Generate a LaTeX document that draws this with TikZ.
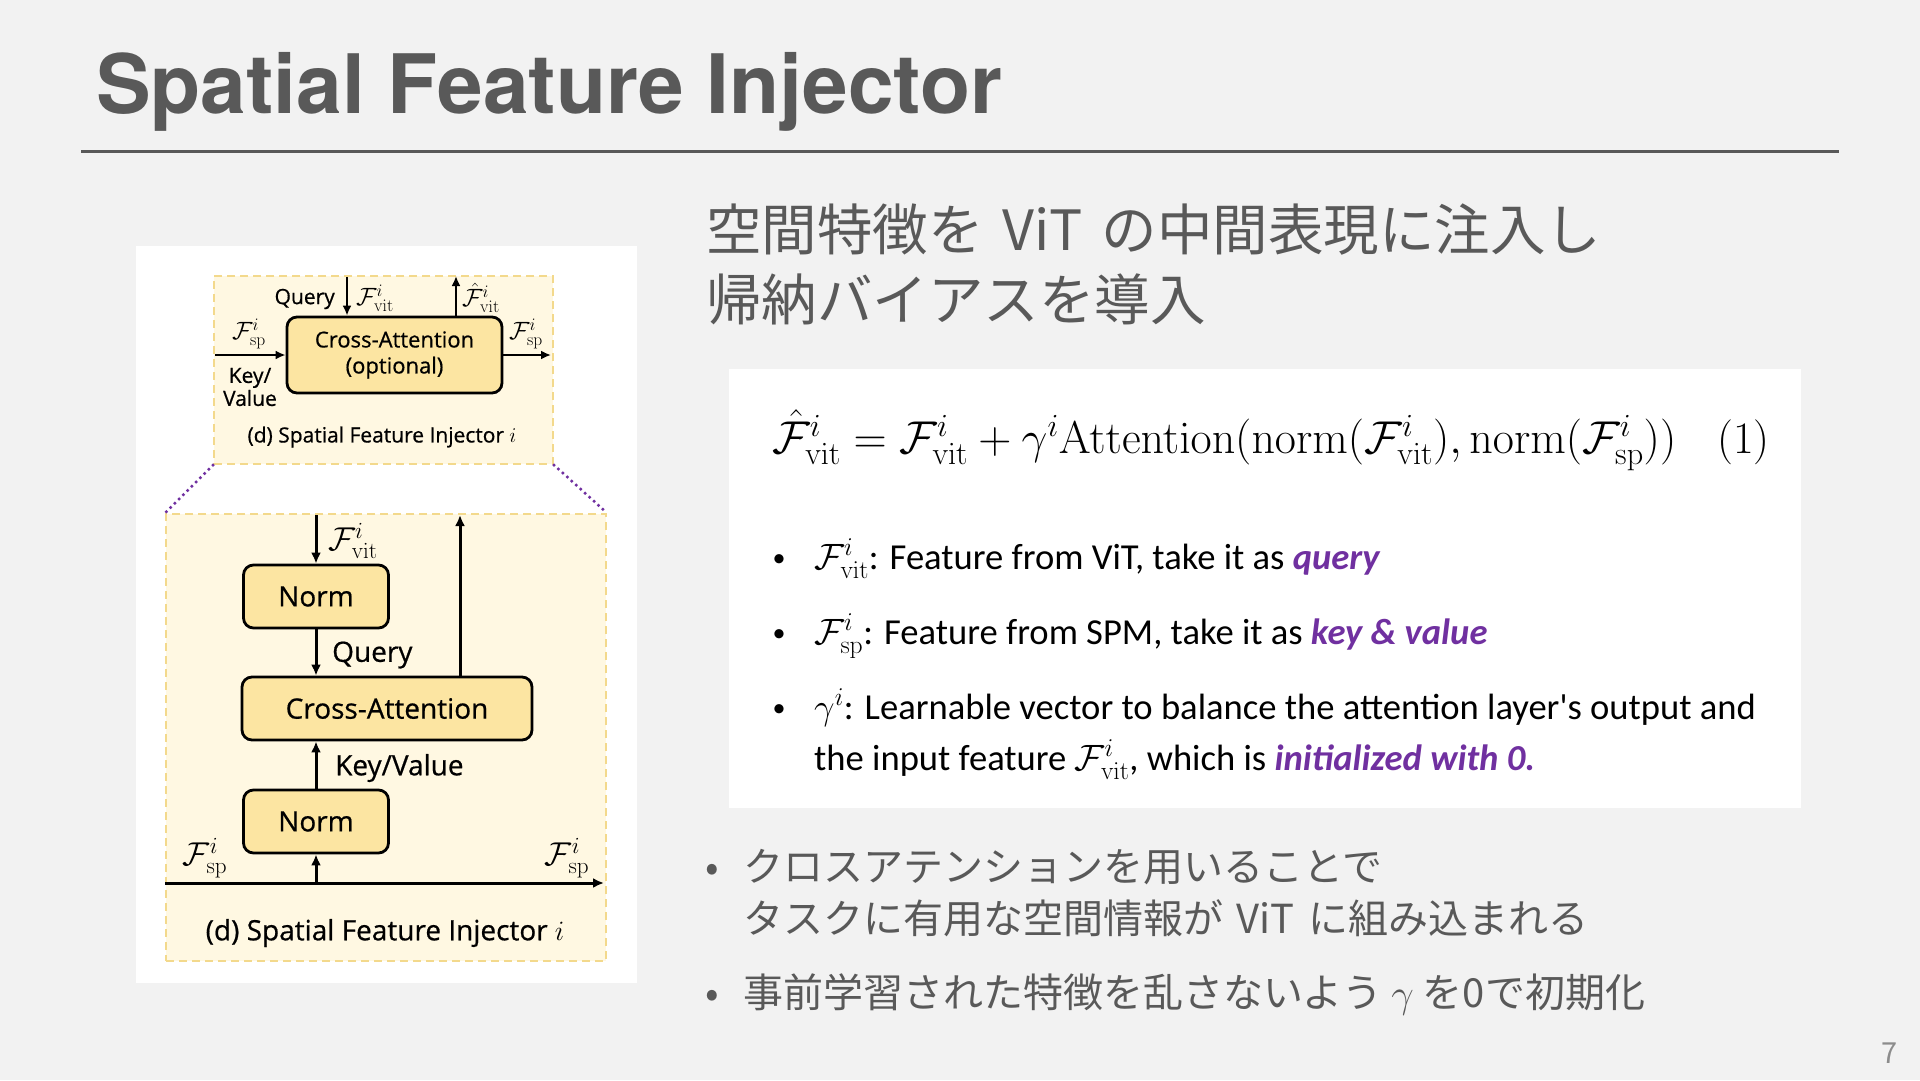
\RequirePackage{fix-cm}
\documentclass[tikz,border=0pt]{standalone}
\usepackage[no-math]{fontspec}
\newfontfamily\jpfont{Noto Sans CJK JP}
\newfontfamily\titlefont{TeX Gyre Heros}
\newfontfamily\figfont[FakeBold=0.6]{Open Sans}
\newfontfamily\calfont{Carlito}
\usetikzlibrary{arrows.meta}
\definecolor{bg}{HTML}{F2F2F2}
\definecolor{txtgray}{HTML}{595959}
\definecolor{numgray}{HTML}{8C8C8C}
\definecolor{cream}{HTML}{FFF8E2}
\definecolor{dashc}{HTML}{F3D98C}
\definecolor{boxfill}{HTML}{FCE5A2}
\definecolor{purp}{HTML}{7030A0}
\newcommand{\tmath}[1]{{\fontsize{25}{27}\selectfont$#1$}}
\newcommand{\bmath}[1]{{\fontsize{33}{35}\selectfont$#1$}}
\newcommand{\jsp}{\hspace{0.34em}}
\tikzset{
  arr/.style={line width=2.6, -{Latex[length=10,width=9]}},
  arrb/.style={line width=3, -{Latex[length=11,width=10]}},
  cabox/.style={draw, line width=2.8, rounded corners=10, fill=boxfill, align=center, inner sep=0},
  dbox/.style={draw=dashc, line width=2, dash pattern=on 8pt off 5pt, fill=cream, inner sep=0},
  zoomline/.style={purp, line width=3.5, dash pattern=on 0pt off 6pt, line cap=round},
  lbl/.style={inner sep=0},
  toplbl/.style={lbl, font=\figfont\fontsize{21}{23}\selectfont},
  botlbl/.style={lbl, font=\figfont\fontsize{28}{30}\selectfont},
  jp/.style={inner sep=0, text=txtgray},
  pbul/.style={inner sep=0, font=\calfont\fontsize{36.6}{40}\selectfont},
  pdot/.style={inner sep=0, font=\calfont\fontsize{26}{30}\selectfont},
}
\begin{document}
\begin{tikzpicture}[x=1pt,y=-1pt]
\useasboundingbox (0,0) rectangle (1920,1080);
\fill[bg] (0,0) rectangle (1920,1080);

% title
\node[anchor=base west, inner sep=0, text=txtgray, font=\titlefont\bfseries\fontsize{82}{98}\selectfont] (title) at (96,113) {Spatial Feature Injector};
\draw[line width=3, txtgray] (81,151) -- (1839,151);

% figure panel
\fill[white] (136,246) rectangle (637,983);

% top injector
\node[dbox, minimum width=339, minimum height=188, anchor=north west] (topbox) at (213,275) {};
\node[cabox, minimum width=215, minimum height=76, font=\figfont\fontsize{22}{26}\selectfont] (ca1) at (394.5,355) {Cross-Attention\\(optional)};
\coordinate (q1) at (347,277);
\coordinate (o1) at (456,276);
\coordinate (l1) at (215,355);
\coordinate (r1) at (551,355);
\draw[arr] (q1) -- (q1 |- ca1.north);
\draw[arr] (o1 |- ca1.north) -- (o1);
\draw[arr] (l1) -- (ca1.west);
\draw[arr] (ca1.east) -- (r1);
\node[toplbl, anchor=east] (tq) at (335,299) {Query};
\node[toplbl, anchor=west] (tfv) at (356,298) {\tmath{\mathcal{F}^i_{\mathrm{vit}}}};
\node[toplbl, anchor=west] (tfh) at (462,298) {\tmath{\hat{\mathcal{F}}^i_{\mathrm{vit}}}};
\node[toplbl] (tfsl) at (249,334) {\tmath{\mathcal{F}^i_{\mathrm{sp}}}};
\node[toplbl] (tfsr) at (526,334) {\tmath{\mathcal{F}^i_{\mathrm{sp}}}};
\node[toplbl, align=center] (tkv) at (250,387) {Key/\\Value};
\node[toplbl] (tcap) at (382,437) {(d) Spatial Feature Injector $i$};

% bottom injector
\node[dbox, minimum width=440, minimum height=447, anchor=north west] (botbox) at (165,513) {};
\draw[zoomline] (topbox.south west) -- (botbox.north west);
\draw[zoomline] (topbox.south east) -- (botbox.north east);

\node[cabox, minimum width=145, minimum height=63, font=\figfont\fontsize{28}{30}\selectfont] (n1) at (316,596.5) {Norm};
\node[cabox, minimum width=290, minimum height=63, font=\figfont\fontsize{28}{30}\selectfont] (ca2) at (387,708.5) {Cross-Attention};
\node[cabox, minimum width=145, minimum height=63, font=\figfont\fontsize{28}{30}\selectfont] (n2) at (316,821.5) {Norm};
\coordinate (in2) at (316,515);
\coordinate (up2) at (460,515);
\coordinate (hl) at (165,883);
\coordinate (hr) at (604,883);
\draw[arrb] (in2) -- (n1.north);
\draw[arrb] (n1.south) -- (n1.south |- ca2.north);
\draw[arrb] (n2.north) -- (n2.north |- ca2.south);
\draw[arrb] (hl) -- (hr);
\draw[arrb] (n2.south |- hl) -- (n2.south);
\draw[arrb] (up2 |- ca2.north) -- (up2);
\node[botlbl, anchor=west] (bfv) at (328,541) {\bmath{\mathcal{F}^i_{\mathrm{vit}}}};
\node[botlbl, anchor=west] (bq) at (332,655) {Query};
\node[botlbl, anchor=west] (bkv) at (335,768) {Key/Value};
\node[botlbl] (bfsl) at (205,858) {\bmath{\mathcal{F}^i_{\mathrm{sp}}}};
\node[botlbl] (bfsr) at (567,858) {\bmath{\mathcal{F}^i_{\mathrm{sp}}}};
\node[botlbl] (bcap) at (385,933) {(d) Spatial Feature Injector $i$};

% heading
\node[jp, anchor=base west, font=\jpfont\fontsize{55.5}{66}\selectfont] (h1) at (706,250) {空間特徴を\jsp ViT\jsp の中間表現に注入し};
\node[jp, anchor=base west, font=\jpfont\fontsize{55.5}{66}\selectfont] (h2) at (706,320) {帰納バイアスを導入};

% equation panel
\fill[white] (729,369) rectangle (1801,808);
\node[inner sep=0, anchor=base west, font=\fontsize{46}{54}\selectfont] (eq) at (772,453) {$\hat{\mathcal{F}}^i_{\mathrm{vit}} = \mathcal{F}^i_{\mathrm{vit}} + \gamma^i \mathrm{Attention}(\mathrm{norm}(\mathcal{F}^i_{\mathrm{vit}}), \mathrm{norm}(\mathcal{F}^i_{\mathrm{sp}}))$};
\node[inner sep=0, anchor=base east, font=\fontsize{45}{54}\selectfont] (eqn) at (1770,453) {(1)};

\node[pdot, anchor=base] (b1d) at (779,566) {•};
\node[pbul, anchor=base west] (b1) at (814,569) {$\mathcal{F}^i_{\mathrm{vit}}$: Feature from ViT, take it as \textcolor{purp}{\textbf{\textit{query}}}};
\node[pdot, anchor=base] (b2d) at (779,641) {•};
\node[pbul, anchor=base west] (b2) at (814,644) {$\mathcal{F}^i_{\mathrm{sp}}$: Feature from SPM, take it as \textcolor{purp}{\textbf{\textit{key \& value}}}};
\node[pdot, anchor=base] (b3d) at (779,716) {•};
\node[pbul, anchor=base west] (b3) at (814,719) {$\gamma^i$: Learnable vector to balance the attention layer's output and};
\node[pbul, anchor=base west] (b3b) at (814,770) {the input feature $\mathcal{F}^i_{\mathrm{vit}}$, which is \textcolor{purp}{\textbf{\textit{initialized with 0.}}}};

% bottom bullets
\node[jp, anchor=base, font=\jpfont\fontsize{40}{48}\selectfont] (j1d) at (712,881) {•};
\node[jp, anchor=base west, font=\jpfont\fontsize{40}{48}\selectfont] (j1) at (743,881) {クロスアテンションを用いることで};
\node[jp, anchor=base west, font=\jpfont\fontsize{40}{48}\selectfont] (j2) at (743,933) {タスクに有用な空間情報が\jsp ViT\jsp に組み込まれる};
\node[jp, anchor=base, font=\jpfont\fontsize{40}{48}\selectfont] (j3d) at (712,1007) {•};
\node[jp, anchor=base west, font=\jpfont\fontsize{40}{48}\selectfont] (j3) at (743,1007) {事前学習された特徴を乱さないよう $\gamma$ を0で初期化};

\node[anchor=base, inner sep=0, text=numgray, font=\jpfont\fontsize{29}{32}\selectfont] (pg) at (1890,1063) {7};
\end{tikzpicture}
\end{document}
